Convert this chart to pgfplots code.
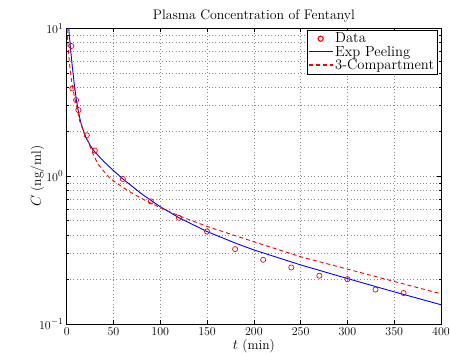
\documentclass[border=0pt]{standalone}
\usepackage{pgfplots}
\pgfplotsset{compat=1.18}
\begin{document}
\begin{tikzpicture}
\begin{axis}[
  scale only axis,
  width=374.3pt, height=295.7pt,
  xmin=0, xmax=400, ymin=0.1, ymax=10,
  ymode=log, log basis y=10,
  xtick={0,50,...,400},
  ytick={0.1,1,10},
  minor ytick={0.2,0.3,0.4,0.5,0.6,0.7,0.8,0.9,2,3,4,5,6,7,8,9},
  yticklabels={$10^{-1}$,$10^{0}$,$10^{1}$},
  tick align=inside,
  major tick length=4pt, minor tick length=2.5pt,
  xmajorgrids, ymajorgrids, yminorgrids,
  major grid style={black!45, line width=0.6pt, dash pattern=on 0.7pt off 2.6pt},
  minor grid style={black!45, line width=0.6pt, dash pattern=on 0.7pt off 2.6pt},
  axis line style={black, line width=0.9pt},
  every tick/.style={black, line width=0.5pt},
  tick label style={font=\fontsize{12.5}{14}\selectfont},
  title={Plasma Concentration of Fentanyl},
  title style={font=\fontsize{13.8}{15}\selectfont, yshift=-4pt},
  xlabel={$t$ (min)},
  ylabel={$C$ (ng/ml)},
  label style={font=\fontsize{13.5}{15}\selectfont},
  xlabel style={yshift=3pt},
  ylabel style={yshift=-12pt},
  clip=true,
  legend image code/.code={\draw[mark repeat=2,mark phase=2,#1]
     plot coordinates {(0cm,0cm) (0.42cm,0cm) (0.84cm,0cm)};},
  legend image post style={line width=1.1pt},
  legend style={at={(0.99,0.995)}, anchor=north east,
    font=\fontsize{14.6}{9}\selectfont, inner sep=1pt, row sep=-2.5pt,
    legend cell align=left, fill=white},
]
\addplot[only marks, mark=o, mark size=2.6pt, red, line width=0.7pt] coordinates {
(5,7.59) (6,3.92) (10,3.27) (12.5,2.80) (21.5,1.89) (30,1.49)
(60,0.957) (90,0.675) (120,0.523) (150,0.422) (180,0.321) (210,0.272)
(240,0.241) (270,0.212) (300,0.201) (330,0.171) (360,0.162)
};
\addlegendentry{Data}
\addplot[draw=blue, line width=0.9pt] coordinates {
(0,14.75) (1,12.29) (2,10.31) (3,8.70) (4,7.41) (5,6.35) (6,5.50) (8,4.24)
(10,3.40) (12,2.84) (15,2.31) (20,1.85) (25,1.62) (30,1.46) (40,1.25)
(50,1.09) (60,0.958) (80,0.759) (100,0.621) (120,0.523) (150,0.422)
(180,0.353) (200,0.317) (250,0.251) (300,0.203) (350,0.165) (400,0.135)
};
\addlegendentry{Exp Peeling}
\addplot[draw=red, line width=0.9pt, dash pattern=on 4pt off 3pt] coordinates {
(0,11) (1,8.5) (2,6.9) (3,5.8) (5,4.5) (8,3.5) (10,3.1) (14,2.35) (18,2.0)
(22.8,1.72) (28,1.42) (33,1.22) (37,1.13) (46,0.97) (60,0.84) (71,0.76)
(85,0.68) (100,0.613) (120,0.539) (150,0.457) (200,0.36) (250,0.285)
(300,0.235) (350,0.194) (400,0.16)
};
\addlegendentry{3-Compartment}
\end{axis}
\pgfresetboundingbox
\path[use as bounding box] (-66.7pt,-29pt) rectangle (383.3pt,324pt);
\end{tikzpicture}
\end{document}
